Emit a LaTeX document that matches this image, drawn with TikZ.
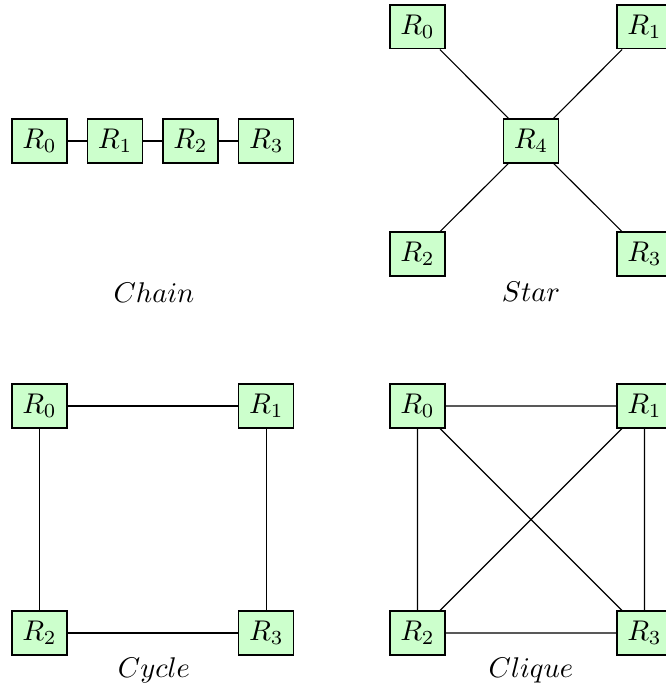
\documentclass[tikz,border=0pt]{standalone}
\begin{document}
\begin{tikzpicture}[x=0.351pt, y=-0.351pt,
  router/.style={draw, fill=green!20, minimum width=19.3pt, minimum height=15.4pt, inner sep=0pt},
  link/.style={draw},
  caption/.style={anchor=base, inner sep=0pt}]
\useasboundingbox (0,0) rectangle (665,689);

% Chain
\node[router] (c0) at (39.5,141) {$R_0$};
\node[router] (c1) at (115.2,141) {$R_1$};
\node[router] (c2) at (190.5,141) {$R_2$};
\node[router] (c3) at (266.4,141) {$R_3$};
\draw[link] (c0) -- (c1) (c1) -- (c2) (c2) -- (c3);
\node[caption] (chainlbl) at (154,303) {$Chain$};

% Star
\node[router] (s0) at (417.5,27) {$R_0$};
\node[router] (s1) at (644.5,27) {$R_1$};
\node[router] (s4) at (531,141) {$R_4$};
\node[router] (s2) at (417.5,254) {$R_2$};
\node[router] (s3) at (644.5,254) {$R_3$};
\draw[link] (s4) -- (s0) (s4) -- (s1) (s4) -- (s2) (s4) -- (s3);
\node[caption] (starlbl) at (531,302) {$Star$};

% Cycle
\node[router] (y0) at (39.5,406) {$R_0$};
\node[router] (y1) at (266.4,406) {$R_1$};
\node[router] (y2) at (39.5,633) {$R_2$};
\node[router] (y3) at (266.4,633) {$R_3$};
\draw[link] (y0) -- (y1) (y1) -- (y3) (y3) -- (y2) (y2) -- (y0);
\node[caption] (cyclelbl) at (154,677) {$Cycle$};

% Clique
\node[router] (q0) at (417.5,406) {$R_0$};
\node[router] (q1) at (644.5,406) {$R_1$};
\node[router] (q2) at (417.5,633) {$R_2$};
\node[router] (q3) at (644.5,633) {$R_3$};
\draw[link] (q0) -- (q1) (q1) -- (q3) (q3) -- (q2) (q2) -- (q0)
            (q0) -- (q3) (q1) -- (q2);
\node[caption] (cliquelbl) at (531,677) {$Clique$};
\end{tikzpicture}
\end{document}
